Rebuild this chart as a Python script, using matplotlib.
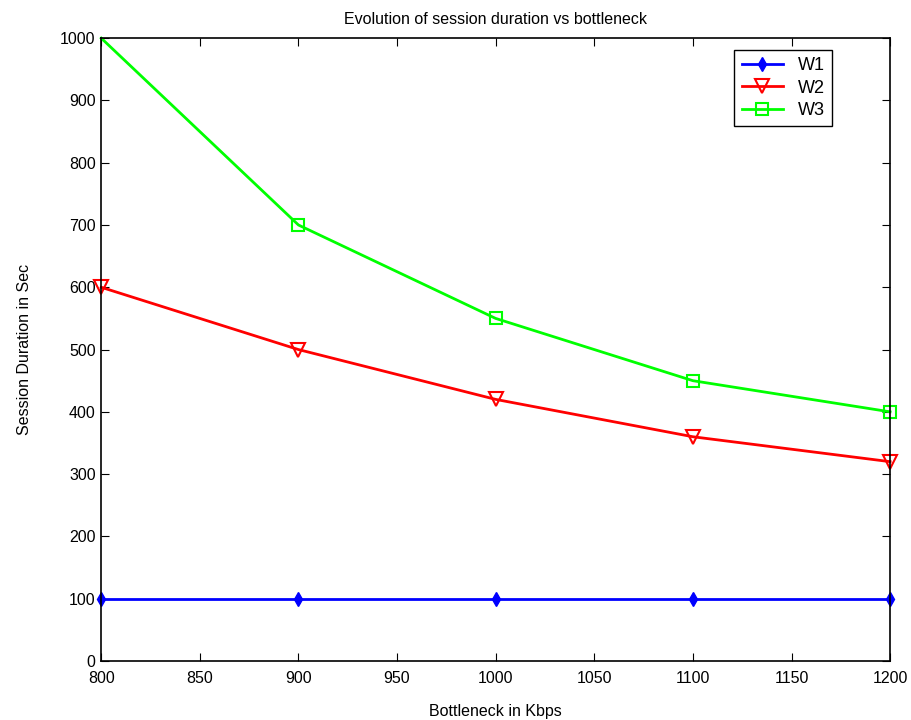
import numpy as np
import matplotlib
matplotlib.use('Agg')
import matplotlib.pyplot as plt

plt.rcParams['font.family'] = ['Liberation Sans', 'DejaVu Sans']
plt.rcParams['font.size'] = 11.5

# data
bottleneck = [800, 900, 1000, 1100, 1200]
w1 = [100, 100, 100, 100, 100]
w2 = [600, 500, 420, 360, 320]
w3 = [1000, 700, 550, 450, 400]

fig = plt.figure(figsize=(9.12, 7.2), dpi=100)
ax = fig.add_axes([0.111, 0.082, 0.865, 0.865])

ax.plot(bottleneck, w1, color='#0000ff', marker='d', markersize=7, lw=2,
        clip_on=False, label='W1')
ax.plot(bottleneck, w2, color='#ff0000', marker='v', markersize=10, lw=2,
        markerfacecolor='none', markeredgewidth=1.5, clip_on=False, label='W2')
ax.plot(bottleneck, w3, color='#00ff00', marker='s', markersize=9, lw=2,
        markerfacecolor='none', markeredgewidth=1.5, markevery=[1, 2, 3, 4],
        clip_on=False, label='W3')

ax.set_xlim(800, 1200)
ax.set_ylim(0, 1000)
ax.set_xticks(np.arange(800, 1201, 50))
ax.set_yticks(np.arange(0, 1001, 100))
ax.tick_params(direction='in', top=True, right=True, length=6)
ax.tick_params(axis='x', pad=7)
ax.tick_params(axis='y', pad=4)
for s in ax.spines.values():
    s.set_linewidth(1.2)

ax.set_title('Evolution of session duration vs bottleneck', fontsize=11.5, pad=10)
ax.set_xlabel('Bottleneck in Kbps', labelpad=13)
ax.set_ylabel('Session Duration in Sec', labelpad=20)

leg = ax.legend(loc='upper right', bbox_to_anchor=(0.926, 0.981), fancybox=False,
                edgecolor='black', framealpha=1, borderaxespad=0, handlelength=2.3,
                fontsize=13, labelspacing=0.3, borderpad=0.4, handletextpad=0.8)
leg.get_frame().set_linewidth(1.0)

plt.savefig('out.png', dpi=100)
